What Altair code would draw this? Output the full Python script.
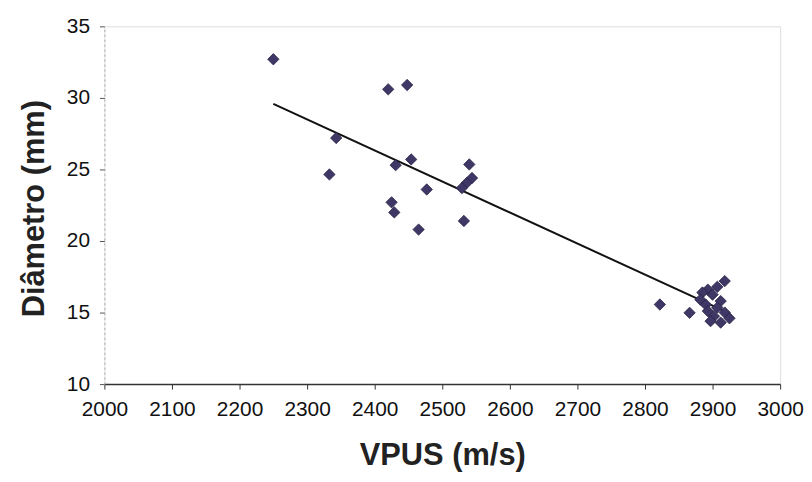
import altair as alt
import pandas as pd

vpus = [2250, 2420, 2448, 2343, 2333, 2431, 2454, 2425, 2429, 2477, 2465, 2532,
        2540, 2544, 2536, 2529, 2822, 2866,
        2918, 2907, 2893, 2885, 2900, 2882, 2912, 2890, 2907, 2893, 2918, 2902,
        2925, 2912, 2897]
diametro = [32.7, 30.6, 30.9, 27.2, 24.65, 25.3, 25.7, 22.7, 22.0, 23.6, 20.8, 21.4,
            25.35, 24.4, 24.05, 23.7, 15.56, 14.98,
            17.2, 16.8, 16.6, 16.4, 16.25, 15.9, 15.8, 15.55, 15.35, 15.1, 15.0, 14.75,
            14.6, 14.3, 14.4]

df = pd.DataFrame({"VPUS": vpus, "Diametro": diametro})

x_ticks = list(range(2000, 3001, 100))
y_ticks = [10, 15, 20, 25, 30, 35]

FONT = "Liberation Sans"

xenc = alt.X("VPUS:Q", scale=alt.Scale(domain=[2000, 3000], nice=False, zero=False),
             axis=alt.Axis(values=x_ticks, format="d", title="VPUS (m/s)", grid=False,
                           domainColor="#333", domainWidth=1.5, tickColor="#333",
                           tickSize=5, labelFontSize=21, labelColor="#111",
                           labelPadding=10, labelFont=FONT, titleFont=FONT,
                           labelOverlap=False, labelFlush=False,
                           titleFontSize=31, titleFontWeight="bold", titleColor="#222",
                           titleY=81, titleBaseline="alphabetic"))
yenc = alt.Y("Diametro:Q", scale=alt.Scale(domain=[10, 35], nice=False, zero=False),
             axis=alt.Axis(values=y_ticks, format="d", title="Diâmetro (mm)", grid=False,
                           domainColor="#aaa", domainDash=[2, 3], tickColor="#555",
                           tickSize=5, labelFontSize=21, labelColor="#111",
                           labelPadding=10, labelFont=FONT, titleFont=FONT,
                           labelOverlap=False, labelFlush=False,
                           titleFontSize=31, titleFontWeight="bold", titleColor="#222",
                           titleX=-61, titleY=183, titleBaseline="alphabetic"))

points = alt.Chart(df).mark_point(shape="diamond", filled=True, size=130,
                                  color="#3f3766", stroke="#2a2245", strokeWidth=0.8,
                                  opacity=1).encode(x=xenc, y=yenc)

trend = alt.Chart(df).transform_regression("VPUS", "Diametro").mark_line(
    color="#111", strokeWidth=2).encode(x="VPUS:Q", y="Diametro:Q")

chart = alt.layer(trend, points).properties(
    width=680, height=360,
    padding={"left": 97, "top": 17, "right": 24, "bottom": 89},
    autosize=alt.AutoSizeParams(type="none"),
).configure_view(stroke=None).configure(background="white")

chart.save("out.html", embed_options={"renderer": "svg", "actions": False})
